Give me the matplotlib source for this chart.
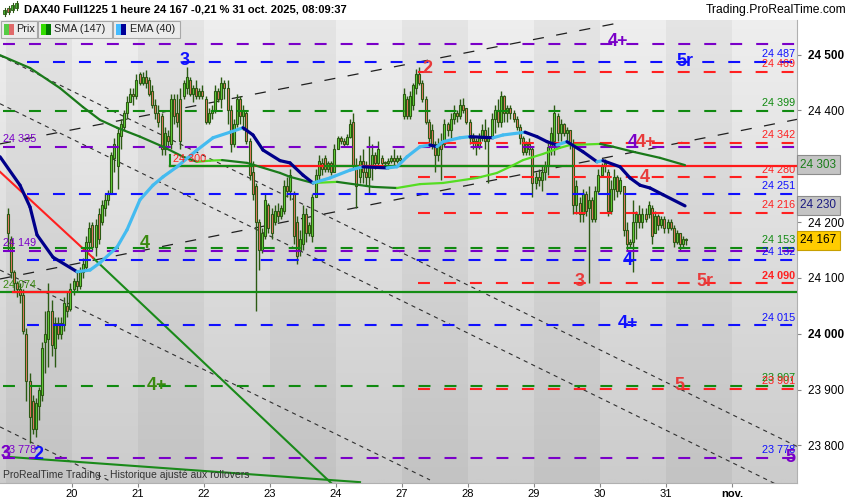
import matplotlib
matplotlib.use("Agg")
import matplotlib.pyplot as plt
import numpy as np
from matplotlib.patches import Rectangle
from matplotlib.collections import LineCollection

plt.rcParams['font.family'] = ['Liberation Sans', 'DejaVu Sans']
plt.rcParams['lines.scale_dashes'] = False

# dias (indice -1 = viernes 17 oct)
day_labels = ["20", "21", "22", "23", "24", "27", "28", "29", "30", "31", "nov."]
day_index = [-1, 0, 1, 2, 3, 4, 5, 6, 7, 8, 9]

# velas horarias (open, high, low, close)
bars_17 = [(24215, 24225, 24150, 24180), (24170, 24175, 24100, 24110), (24110, 24115, 24075, 24090),
           (24090, 24095, 24065, 24080), (24080, 24090, 24055, 24070), (24070, 24080, 24000, 24005),
           (24000, 24010, 23880, 23915), (23915, 23930, 23805, 23850), (23880, 23890, 23820, 23830),
           (23830, 23885, 23815, 23875), (23870, 23905, 23845, 23900), (23890, 23985, 23880, 23975),
           (23985, 24040, 23930, 24000), (23990, 24090, 23940, 24040), (24040, 24060, 23960, 23980),
           (23975, 24030, 23940, 24020), (24020, 24030, 23990, 24000), (24000, 24030, 23990, 24020),
           (24015, 24065, 24005, 24055), (24050, 24075, 24030, 24040), (24045, 24090, 24040, 24080)]
bars_20 = [(24080, 24100, 24070, 24095), (24095, 24115, 24075, 24085), (24085, 24120, 24080, 24110),
           (24110, 24135, 24100, 24125), (24120, 24175, 24115, 24165), (24165, 24200, 24150, 24190),
           (24195, 24200, 24150, 24155), (24155, 24205, 24140, 24195), (24215, 24225, 24160, 24170),
           (24200, 24240, 24195, 24230), (24225, 24250, 24210, 24240), (24240, 24258, 24230, 24250),
           (24250, 24325, 24250, 24320), (24315, 24350, 24290, 24340), (24300, 24370, 24260, 24360),
           (24355, 24385, 24330, 24375), (24370, 24400, 24365, 24395), (24395, 24425, 24385, 24415),
           (24415, 24440, 24415, 24430), (24430, 24440, 24410, 24425), (24425, 24465, 24420, 24455)]
bars_21 = [(24465, 24468, 24445, 24450), (24450, 24468, 24445, 24460), (24460, 24472, 24440, 24450),
           (24455, 24460, 24425, 24430), (24435, 24445, 24405, 24410), (24410, 24420, 24385, 24395),
           (24395, 24410, 24370, 24380), (24390, 24395, 24320, 24330), (24330, 24370, 24320, 24360),
           (24355, 24365, 24335, 24345), (24340, 24430, 24330, 24420), (24420, 24430, 24375, 24390),
           (24395, 24430, 24370, 24380), (24420, 24440, 24330, 24345), (24425, 24455, 24420, 24450),
           (24440, 24478, 24430, 24460), (24455, 24460, 24425, 24430), (24430, 24445, 24415, 24440),
           (24440, 24455, 24420, 24425), (24425, 24440, 24420, 24435), (24435, 24445, 24420, 24425)]
bars_22 = [(24420, 24425, 24375, 24380), (24380, 24405, 24375, 24395), (24395, 24410, 24385, 24400),
           (24400, 24445, 24395, 24435), (24435, 24440, 24415, 24420), (24420, 24460, 24405, 24450),
           (24450, 24455, 24420, 24440), (24440, 24455, 24375, 24400), (24400, 24410, 24325, 24340),
           (24340, 24385, 24335, 24375), (24375, 24430, 24370, 24420), (24420, 24425, 24375, 24390),
           (24390, 24410, 24365, 24400), (24395, 24400, 24340, 24345), (24345, 24350, 24275, 24285),
           (24290, 24310, 24240, 24250), (24265, 24270, 24040, 24200), (24200, 24205, 24115, 24150),
           (24150, 24190, 24145, 24180), (24175, 24250, 24170, 24240), (24230, 24235, 24180, 24190)]
bars_23 = [(24215, 24225, 24170, 24180), (24200, 24230, 24195, 24220), (24220, 24235, 24200, 24210),
           (24210, 24230, 24205, 24225), (24220, 24275, 24215, 24265), (24265, 24280, 24245, 24255),
           (24255, 24295, 24240, 24285), (24250, 24255, 24160, 24175), (24200, 24210, 24125, 24140),
           (24150, 24185, 24140, 24170), (24160, 24230, 24150, 24215), (24215, 24225, 24165, 24180),
           (24180, 24200, 24175, 24195), (24175, 24250, 24165, 24245), (24245, 24295, 24245, 24285),
           (24285, 24320, 24275, 24310), (24305, 24315, 24285, 24295), (24315, 24320, 24290, 24295),
           (24295, 24310, 24290, 24305), (24305, 24310, 24285, 24290), (24290, 24340, 24290, 24330)]
bars_24 = [(24330, 24355, 24330, 24350), (24350, 24355, 24340, 24345), (24345, 24350, 24335, 24340),
           (24340, 24358, 24338, 24352), (24352, 24385, 24350, 24375), (24380, 24395, 24295, 24300),
           (24300, 24315, 24225, 24265), (24280, 24320, 24270, 24310), (24310, 24330, 24270, 24290),
           (24290, 24310, 24265, 24280), (24280, 24355, 24250, 24300), (24300, 24340, 24275, 24320),
           (24320, 24325, 24295, 24305), (24305, 24345, 24300, 24330), (24315, 24320, 24300, 24305),
           (24305, 24310, 24300, 24308), (24305, 24315, 24295, 24310), (24310, 24320, 24305, 24315),
           (24315, 24330, 24300, 24310), (24310, 24320, 24305, 24315), (24315, 24320, 24305, 24312)]
bars_27 = [(24390, 24440, 24385, 24430), (24420, 24425, 24385, 24390), (24390, 24435, 24385, 24425),
           (24410, 24450, 24400, 24445), (24440, 24475, 24430, 24465), (24465, 24478, 24445, 24450),
           (24450, 24455, 24415, 24420), (24420, 24425, 24375, 24380), (24380, 24385, 24340, 24350),
           (24365, 24375, 24330, 24340), (24340, 24345, 24290, 24320), (24320, 24350, 24310, 24340),
           (24340, 24360, 24275, 24330), (24340, 24385, 24335, 24375), (24375, 24380, 24355, 24365),
           (24365, 24395, 24350, 24385), (24385, 24410, 24375, 24395), (24395, 24400, 24380, 24390),
           (24390, 24420, 24385, 24410), (24410, 24422, 24395, 24400), (24405, 24405, 24375, 24380)]
bars_28 = [(24380, 24385, 24340, 24350), (24350, 24360, 24330, 24345), (24345, 24350, 24320, 24335),
           (24335, 24360, 24330, 24350), (24350, 24375, 24345, 24365), (24365, 24385, 24330, 24345),
           (24345, 24370, 24270, 24355), (24355, 24395, 24350, 24385), (24385, 24410, 24360, 24400),
           (24400, 24420, 24370, 24380), (24380, 24435, 24370, 24425), (24425, 24428, 24380, 24395),
           (24395, 24410, 24380, 24405), (24405, 24410, 24385, 24395), (24395, 24400, 24380, 24385),
           (24385, 24390, 24365, 24370), (24370, 24375, 24340, 24350), (24350, 24355, 24320, 24325),
           (24325, 24345, 24320, 24340), (24340, 24350, 24320, 24330), (24330, 24335, 24245, 24270)]
bars_29 = [(24270, 24290, 24260, 24280), (24280, 24295, 24265, 24275), (24275, 24300, 24255, 24290),
           (24290, 24310, 24275, 24300), (24300, 24345, 24285, 24335), (24335, 24370, 24320, 24360),
           (24345, 24410, 24320, 24395), (24390, 24395, 24345, 24360), (24360, 24385, 24345, 24375),
           (24375, 24378, 24355, 24360), (24360, 24370, 24345, 24365), (24365, 24365, 24330, 24340),
           (24340, 24348, 24215, 24230), (24230, 24275, 24215, 24265), (24235, 24245, 24200, 24215),
           (24215, 24260, 24200, 24250), (24250, 24255, 24210, 24220), (24225, 24265, 24090, 24240),
           (24240, 24245, 24200, 24205), (24205, 24265, 24200, 24255), (24255, 24295, 24250, 24285)]
bars_30 = [(24285, 24305, 24280, 24300), (24300, 24313, 24290, 24305), (24290, 24295, 24210, 24220),
           (24220, 24275, 24215, 24260), (24260, 24295, 24240, 24280), (24280, 24285, 24245, 24255),
           (24255, 24280, 24250, 24275), (24265, 24265, 24175, 24185), (24185, 24200, 24150, 24160),
           (24160, 24170, 24155, 24165), (24165, 24240, 24110, 24200), (24200, 24220, 24170, 24215),
           (24215, 24230, 24190, 24200), (24200, 24225, 24190, 24215), (24215, 24225, 24200, 24205),
           (24215, 24238, 24208, 24230), (24225, 24230, 24160, 24175), (24180, 24220, 24180, 24210),
           (24210, 24215, 24185, 24195), (24195, 24210, 24190, 24205), (24205, 24210, 24180, 24190)]
bars_31 = [(24190, 24205, 24180, 24200), (24200, 24205, 24185, 24190), (24190, 24195, 24155, 24165),
           (24165, 24185, 24160, 24180), (24180, 24180, 24150, 24160), (24160, 24175, 24155, 24170),
           (24170, 24172, 24158, 24167)]
all_bars = [bars_17, bars_20, bars_21, bars_22, bars_23, bars_24, bars_27, bars_28, bars_29, bars_30, bars_31]

# EMA (40) y SMA (147)
ema_x = [-1.091, -0.788, -0.636, -0.530, -0.288, 0.076, 0.273, 0.424, 0.682, 0.833, 1.030, 1.227, 1.379,
         1.591, 1.894, 2.136, 2.394, 2.591, 2.742, 2.894, 3.152, 3.303, 3.500, 3.652, 3.909, 4.212, 4.409,
         4.773, 4.924, 5.076, 5.273, 5.424, 5.530, 5.621, 5.879, 6.030, 6.379, 6.530, 6.864, 7.045, 7.197,
         7.348, 7.500, 7.742, 7.955, 8.045, 8.303, 8.455, 8.606, 8.758, 8.955, 9.288]
ema_y = [24317, 24266, 24227, 24177, 24137, 24111, 24114, 24127, 24155, 24186, 24240, 24266, 24281,
         24299, 24329, 24351, 24361, 24369, 24356, 24329, 24310, 24306, 24284, 24270, 24279, 24293, 24299,
         24297, 24299, 24317, 24335, 24338, 24335, 24344, 24351, 24353, 24351, 24356, 24361, 24353, 24344,
         24338, 24344, 24326, 24308, 24310, 24299, 24279, 24266, 24261, 24249, 24229]
sma_x = [-1.091, -0.636, -0.182, 0.167, 0.424, 0.682, 1.030, 1.379, 1.682, 1.894, 2.091, 2.273, 2.652,
         3.152, 3.303, 3.652, 4.015, 4.561, 4.924, 5.273, 5.621, 6.136, 6.439, 6.636, 6.833, 7.136, 7.394,
         7.545, 8.000, 8.197, 8.500, 8.909, 9.288]
sma_y = [24499, 24476, 24440, 24406, 24383, 24369, 24353, 24335, 24317, 24308, 24310, 24311, 24306,
         24288, 24281, 24270, 24272, 24263, 24261, 24268, 24270, 24279, 24288, 24299, 24311, 24322, 24333,
         24338, 24340, 24335, 24326, 24315, 24302]

# niveles horizontales punteados
purple, blue, red, green = '#7a00c8', '#1010ff', '#ff2020', '#108a10'
levels = [24519, 24487, 24469, 24399, 24342, 24335, 24280, 24251, 24216, 24149, 24153, 24132, 24090,
          24015, 23907, 23901, 23778]
level_cols = [purple, blue, red, green, red, purple, red, blue, red, purple, green, blue, red,
              blue, green, red, purple]
right_vals = [24487, 24469, 24399, 24342, 24280, 24251, 24216, 24153, 24132, 24090, 24015, 23907, 23901, 23778]
right_cols = [blue, red, green, red, red, blue, red, green, blue, red, blue, green, red, blue]
left_vals = [24335, 24149, 24074, 23778]
left_cols = [purple, purple, '#3a8a10', purple]

# etiquetas de ondas
wave_txt = ["3", "2", "4+", "5r", "4", "4+", "4", "4", "4", "3", "5r", "4+", "4+", "5", "5", "3", "2"]
wave_x = [1.712, 5.379, 8.273, 9.288, 8.50, 8.70, 8.682, 1.106, 8.424, 7.697, 9.591, 8.424, 1.288,
          9.197, 10.879, -1.0, -0.515]
wave_y = [24490, 24476, 24523, 24487, 24342, 24342, 24279, 24161, 24132, 24093, 24093, 24019, 23908,
          23908, 23779, 23786, 23783]
wave_c = [blue, '#e83a3a', purple, blue, purple, '#e83a3a', '#e83a3a', '#3a8a10', blue, '#e83a3a',
          '#e83a3a', blue, '#3a8a10', '#e83a3a', purple, purple, blue]

fig = plt.figure(figsize=(8.5, 5), dpi=100)
ax = fig.add_axes([0, 17 / 500, 797 / 850, 463 / 500])
x0, x1 = -1.091, 10.985
y0, y1 = 23732.5, 24562

# fondo por dias
for d in range(-2, 11):
    if d % 2 == 0:
        top, bot = 0.935, 0.80
    else:
        top, bot = 0.895, 0.765
    g = np.linspace(top, bot, 64)
    img = np.repeat(g[:, None, None], 3, axis=2)
    ax.imshow(img, extent=[d, d + 1, y0, y1], aspect='auto', origin='upper', zorder=0,
              interpolation='bilinear')

# lineas de tendencia
ax.plot([-1.091, 10.985], [24498, 23798], color='#303030', lw=0.8, ls=(0, (3, 3)), zorder=1)
ax.plot([-1.091, 10.985], [24412, 23712], color='#303030', lw=0.8, ls=(0, (3, 3)), zorder=1)
ax.plot([-1.091, 5.424], [24114, 23738], color='#303030', lw=0.8, ls=(0, (3, 3)), zorder=1)
ax.plot([-1.091, 0.576], [23833, 23736], color='#303030', lw=0.8, ls=(0, (3, 3)), zorder=1)
ax.plot([-1.091, 8.379], [24340, 24559], color='#202020', lw=0.9, ls=(0, (8, 9)), zorder=1)
ax.plot([-1.091, 10.985], [24098, 24384], color='#202020', lw=0.9, ls=(0, (8, 9)), zorder=1)
ax.plot([0.318, 4.136], [24136, 23709], color='#1a8a1a', lw=1.5, zorder=1)
ax.plot([-1.091, 0.318], [24290, 24136], color='#ff2020', lw=1.5, zorder=1)
ax.plot([-0.939, 4.364], [23779, 23734], color='#1a8a1a', lw=1.5, zorder=1)

# velas
for d, bars in zip(day_index, all_bars):
    for j, (o, h, l, c) in enumerate(bars):
        x = d + (j + 0.5) / 21
        ax.vlines(x, l, h, color='#2c5a14', lw=1.0, zorder=2)
        fill = '#66d63c' if c >= o else '#f07a68'
        ax.add_patch(Rectangle((x - 0.016, min(o, c)), 0.032, max(abs(c - o), 1.5),
                               facecolor=fill, edgecolor='#2c5a14', lw=0.8, zorder=2))

# niveles
for v, col in zip(levels, level_cols):
    if col == red:
        xs = 5.242
    elif col == blue:
        xs = -0.682
    else:
        xs = -1.045
    ax.plot([xs, x1], [v, v], color=col, lw=1.5, ls=(0, (8.6, 10.1)), zorder=3)

ax.plot([x0, x1], [24074, 24074], color='#148c14', lw=1.6, zorder=3)
ax.plot([-0.894, -0.030], [24074, 24074], color='#ff1a1a', lw=1.6, zorder=3)
ax.plot([1.485, x1], [24300, 24300], color='#ff1a1a', lw=1.6, zorder=3)
for a, b in [(1.485, 2.742), (3.833, 4.333), (4.742, 7.591)]:
    ax.plot([a, b], [24300, 24300], color='#148c14', lw=1.6, zorder=3)
ax.plot([1.485, 1.485], [24300, 24320], color='#148c14', lw=1.5, zorder=3)
ax.text(1.53, 24313, "24 300", color='#ff2020', fontsize=7.8, ha='left', va='center', zorder=6)


def ma_line(xs, ys, up, down, lw):
    pts = np.column_stack([xs, ys])
    segs = np.stack([pts[:-1], pts[1:]], axis=1)
    cols = [up if ys[i + 1] >= ys[i] else down for i in range(len(ys) - 1)]
    ax.add_collection(LineCollection(segs, colors=cols, linewidths=lw, zorder=4, capstyle='round'))


ma_line(sma_x, sma_y, '#55dd22', '#1a7a1a', 1.6)
ma_line(ema_x, ema_y, '#44bbf0', '#00008a', 2.3)

# textos de niveles
for v, col in zip(right_vals, right_cols):
    ax.text(10.955, v + 14, f"{v:,}".replace(",", " "), color=col, fontsize=7.8, ha='right',
            va='center', zorder=6, fontweight='bold' if v == 24090 else 'normal')
for v, col in zip(left_vals, left_cols):
    ax.text(-1.045, v + 14, f"{v:,}".replace(",", " "), color=col, fontsize=7.8, ha='left',
            va='center', zorder=6)

for t, x, y, c in zip(wave_txt, wave_x, wave_y, wave_c):
    ax.text(x, y, t, color=c, fontsize=13, fontweight='bold', ha='center', va='center', zorder=6,
            clip_on=True)

ax.text(-1.045, 23746, "ProRealTime Trading - Historique ajusté aux rollovers", fontsize=7.5,
        color='#333333', ha='left', va='center', zorder=6)

ax.set_xlim(x0, x1)
ax.set_ylim(y0, y1)

# ejes
ax.yaxis.tick_right()
ticks = [23800, 23900, 24000, 24100, 24200, 24400, 24500]
ax.set_yticks(ticks)
ax.set_yticklabels([f"{t:,}".replace(",", " ") for t in ticks], fontsize=8.5)
ax.tick_params(axis='y', length=3, pad=5, color='#888888')
for lab in ax.get_yticklabels():
    if lab.get_text() in ("24 500", "24 000"):
        lab.set_fontweight('bold')
ax.set_xticks(range(11))
ax.set_xticklabels(day_labels, fontsize=8)
ax.tick_params(axis='x', length=3, pad=1, color='#888888')
ax.get_xticklabels()[-1].set_fontweight('bold')
for s in ['top', 'left']:
    ax.spines[s].set_visible(False)
ax.spines['right'].set_color('#b0b0b0')
ax.spines['bottom'].set_color('#b0b0b0')

# valores actuales en el eje
tr = ax.get_yaxis_transform()
ax.text(1.004, 24303, "24 303", transform=tr, color='#1a7d1a', fontsize=8.5, ha='left', va='center',
        bbox=dict(boxstyle='square,pad=0.3', fc='#c4c4c4', ec='#8c8c8c', lw=0.8), clip_on=False, zorder=7)
ax.text(1.004, 24230, "24 230", transform=tr, color='#1a1a80', fontsize=8.5, ha='left', va='center',
        bbox=dict(boxstyle='square,pad=0.3', fc='#c4c4c4', ec='#8c8c8c', lw=0.8), clip_on=False, zorder=7)
ax.text(1.004, 24167, "24 167", transform=tr, color='black', fontsize=8.5, ha='left', va='center',
        bbox=dict(boxstyle='square,pad=0.3', fc='#ffcc00', ec='#c8a000', lw=0.8), clip_on=False, zorder=7)

# cabecera y leyenda
ov = fig.add_axes([0, 0, 1, 1], zorder=10)
ov.set_xlim(0, 850)
ov.set_ylim(500, 0)
ov.axis('off')
ov.patch.set_alpha(0)

for cx, b0, b1, col in [(5, 10, 14, '#44bb33'), (9, 8, 12, '#e06060'), (13, 5, 10, '#44bb33'), (17, 3, 8, '#44bb33')]:
    ov.plot([cx, cx], [b0 - 2, b1 + 2], color='#2c5a14', lw=0.8)
    ov.add_patch(Rectangle((cx - 1.5, b0), 3, b1 - b0, fc=col, ec='#2c5a14', lw=0.6))
ov.text(24, 10, "DAX40 Full1225 1 heure 24 167 -0,21 % 31 oct. 2025, 08:09:37", fontsize=8,
        fontweight='bold', ha='left', va='center', color='black')
ov.text(846, 10, "Trading.ProRealTime.com", fontsize=8.7, ha='right', va='center', color='black')

tabs = [(1, 37, "Prix", '#55cc44', '#e06a6a', 16), (38, 112, "SMA (147)", '#33dd00', '#007700', 54),
        (113, 180, "EMA (40)", '#44bbff', '#000099', 130)]
for a, b, txt, c1, c2, tx in tabs:
    ov.add_patch(Rectangle((a, 21), b - a, 17, fc='#ececec', ec='#a8a8a8', lw=0.8))
    ov.add_patch(Rectangle((a + 3, 24), 5, 11, fc=c1, ec='none'))
    ov.add_patch(Rectangle((a + 8, 24), 5, 11, fc=c2, ec='none'))
    ov.text(tx, 29.5, txt, fontsize=7.8, ha='left', va='center', color='#222222')

fig.savefig("out.png", dpi=100)
